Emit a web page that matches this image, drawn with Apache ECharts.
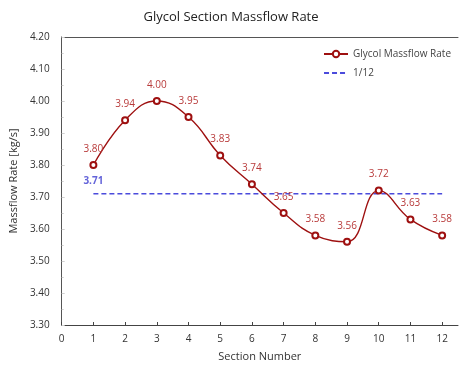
<!DOCTYPE html>
<html><head><meta charset="utf-8">
<script src="https://cdn.jsdelivr.net/npm/echarts@6/dist/echarts.min.js"></script>
<style>html,body{margin:0;padding:0;background:#fff}#c{width:462px;height:370px}</style>
</head><body><div id="c"></div>
<script>
const sections = [1,2,3,4,5,6,7,8,9,10,11,12];
const massflow = [3.80,3.94,4.00,3.95,3.83,3.74,3.65,3.58,3.56,3.72,3.63,3.58];
const avgValue = 3.71;
const avgRange = [1,12];
const yTicks = {min:3.3, max:4.2, step:0.1};

const font = '"Open Sans", "Noto Sans", sans-serif';
const chart = echarts.init(document.getElementById('c'));
chart.setOption({
  animation:false,
  title:{text:'Glycol Section Massflow Rate', left:'center', top:6,
    textStyle:{fontFamily:font, fontSize:13, fontWeight:'normal', color:'#222'}},
  grid:{left:55, right:4, top:37, bottom:45},
  legend:{orient:'vertical', right:6, top:44, itemGap:9, itemWidth:24, itemHeight:8,
    textStyle:{fontFamily:font, fontSize:10, color:'#444'},
    data:['Glycol Massflow Rate',{name:'1/12', itemStyle:{color:'rgba(0,0,0,0)', borderWidth:0, opacity:0}}]},
  xAxis:[{type:'value', min:0, max:12.5, interval:1,
    name:'Section Number', nameLocation:'middle', nameGap:26,
    nameTextStyle:{fontFamily:font, fontSize:11, color:'#333'},
    axisLine:{lineStyle:{color:'#444'}},
    axisTick:{inside:true, length:3, lineStyle:{color:'#444'}},
    axisLabel:{fontFamily:font, fontSize:10, color:'#333', margin:9, showMaxLabel:false,
      formatter:v=>Number.isInteger(v)?String(v):''},
    splitLine:{show:false}},
   {type:'value', position:'top', min:0, max:12.5, interval:1,
    axisLine:{show:true, lineStyle:{color:'#555'}}, axisTick:{show:false}, axisLabel:{show:false}, splitLine:{show:false}}],
  yAxis:[{type:'value', min:yTicks.min, max:yTicks.max, interval:yTicks.step,
    name:'Massflow Rate [kg/s]', nameLocation:'middle', nameGap:40,
    nameTextStyle:{fontFamily:font, fontSize:11, color:'#333'},
    axisLine:{show:true, lineStyle:{color:'#d0d0d0'}},
    axisTick:{show:true, inside:true, length:3, lineStyle:{color:'#d0d0d0'}},
    minorTick:{show:true, splitNumber:2, length:2, lineStyle:{color:'#d0d0d0'}},
    axisLabel:{fontFamily:font, fontSize:10, color:'#333', margin:12, formatter:v=>v.toFixed(2)},
    splitLine:{show:false}},
   {type:'value', position:'right', min:yTicks.min, max:yTicks.max, interval:yTicks.step,
    axisLine:{show:true, lineStyle:{color:'#555'}}, axisTick:{show:false}, axisLabel:{show:false}, splitLine:{show:false}}],
  series:[
    {name:'Glycol Massflow Rate', type:'line', smooth:0.45, z:3,
     data:sections.map((s,i)=>[s,massflow[i]]),
     symbol:'emptyCircle', symbolSize:6,
     lineStyle:{color:'#9e1010', width:1.4},
     itemStyle:{color:'#9e1010', borderWidth:1},
     label:{show:true, position:'top', distance:7, fontFamily:font, fontSize:10, color:'#b83a3a',
       formatter:p=>p.value[1].toFixed(2)}},
    {name:'1/12', type:'line', z:2, data:avgRange.map(x=>[x,avgValue]),
     symbol:'none',
     lineStyle:{color:'#4b4bdc', width:1.5, type:[5,3]},
     itemStyle:{color:'#4b4bdc'}},
    {name:'avgLabel', type:'scatter', z:4, data:[[avgRange[0],avgValue]],
     symbolSize:0.01, itemStyle:{color:'#4b4bdc'},
     label:{show:true, position:'top', distance:8, fontFamily:font, fontSize:10, fontWeight:'bold', color:'#3c3cd0',
       formatter:()=>avgValue.toFixed(2)}}
  ]
});
</script></body></html>
